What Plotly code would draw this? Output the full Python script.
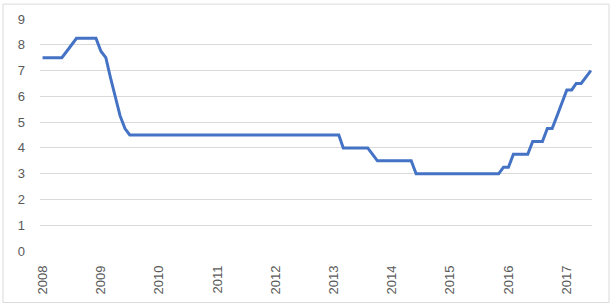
import pandas as pd
import plotly.graph_objects as go

# Monthly values, Jan 2008 - Jun 2017
y2008 = [7.5, 7.5, 7.5, 7.5, 7.5, 7.75, 8.0, 8.25, 8.25, 8.25, 8.25, 8.25]
y2009 = [7.75, 7.5, 6.75, 6.0, 5.25, 4.75, 4.5, 4.5, 4.5, 4.5, 4.5, 4.5]
y2010 = [4.5] * 12
y2011 = [4.5] * 12
y2012 = [4.5] * 12
y2013 = [4.5, 4.5, 4.0, 4.0, 4.0, 4.0, 4.0, 4.0, 3.75, 3.5, 3.5, 3.5]
y2014 = [3.5, 3.5, 3.5, 3.5, 3.5, 3.0, 3.0, 3.0, 3.0, 3.0, 3.0, 3.0]
y2015 = [3.0, 3.0, 3.0, 3.0, 3.0, 3.0, 3.0, 3.0, 3.0, 3.0, 3.0, 3.25]
y2016 = [3.25, 3.75, 3.75, 3.75, 3.75, 4.25, 4.25, 4.25, 4.75, 4.75, 5.25, 5.75]
y2017 = [6.25, 6.25, 6.5, 6.5, 6.75, 7.0]

values = y2008 + y2009 + y2010 + y2011 + y2012 + y2013 + y2014 + y2015 + y2016 + y2017
dates = pd.date_range("2008-01-01", periods=len(values), freq="MS")

year_ticks = [f"{y}-01-01" for y in range(2008, 2018)]
year_labels = [str(y) for y in range(2008, 2018)]
y_ticks = list(range(0, 10))

W, H = 612, 307
ML, MR, MT, MB = 40, 20, 18, 55

fig = go.Figure()
fig.add_trace(go.Scatter(
    x=dates, y=values, mode="lines",
    line=dict(color="#4472C4", width=3),
    hoverinfo="skip", showlegend=False,
))

font = dict(family="Liberation Sans, Arial, sans-serif", size=13, color="#595959")

fig.update_layout(
    width=W, height=H,
    margin=dict(l=ML, r=MR, t=MT, b=MB),
    paper_bgcolor="white", plot_bgcolor="white",
    font=font,
    xaxis=dict(
        type="date",
        range=["2007-12-16", "2017-06-08"],
        tickvals=year_ticks, ticktext=year_labels,
        tickangle=-90,
        showgrid=False, zeroline=False, showline=False,
        ticks="", ticklabelstandoff=11,
        tickfont=font,
    ),
    yaxis=dict(
        range=[0, 9],
        tickvals=y_ticks,
        showgrid=True, gridcolor="#D9D9D9", gridwidth=1,
        zeroline=False, showline=False, ticks="",
        ticklabelstandoff=14,
        tickfont=font,
    ),
)

pw = W - ML - MR
ph = H - MT - MB
fig.add_shape(
    type="rect", xref="paper", yref="paper",
    x0=(3 - ML) / pw, x1=(609 - ML) / pw,
    y0=(H - MB - 304) / ph, y1=(H - MB - 3) / ph,
    line=dict(color="#D9D9D9", width=1), fillcolor="rgba(0,0,0,0)",
    layer="below",
)

fig.write_html("out.html")
